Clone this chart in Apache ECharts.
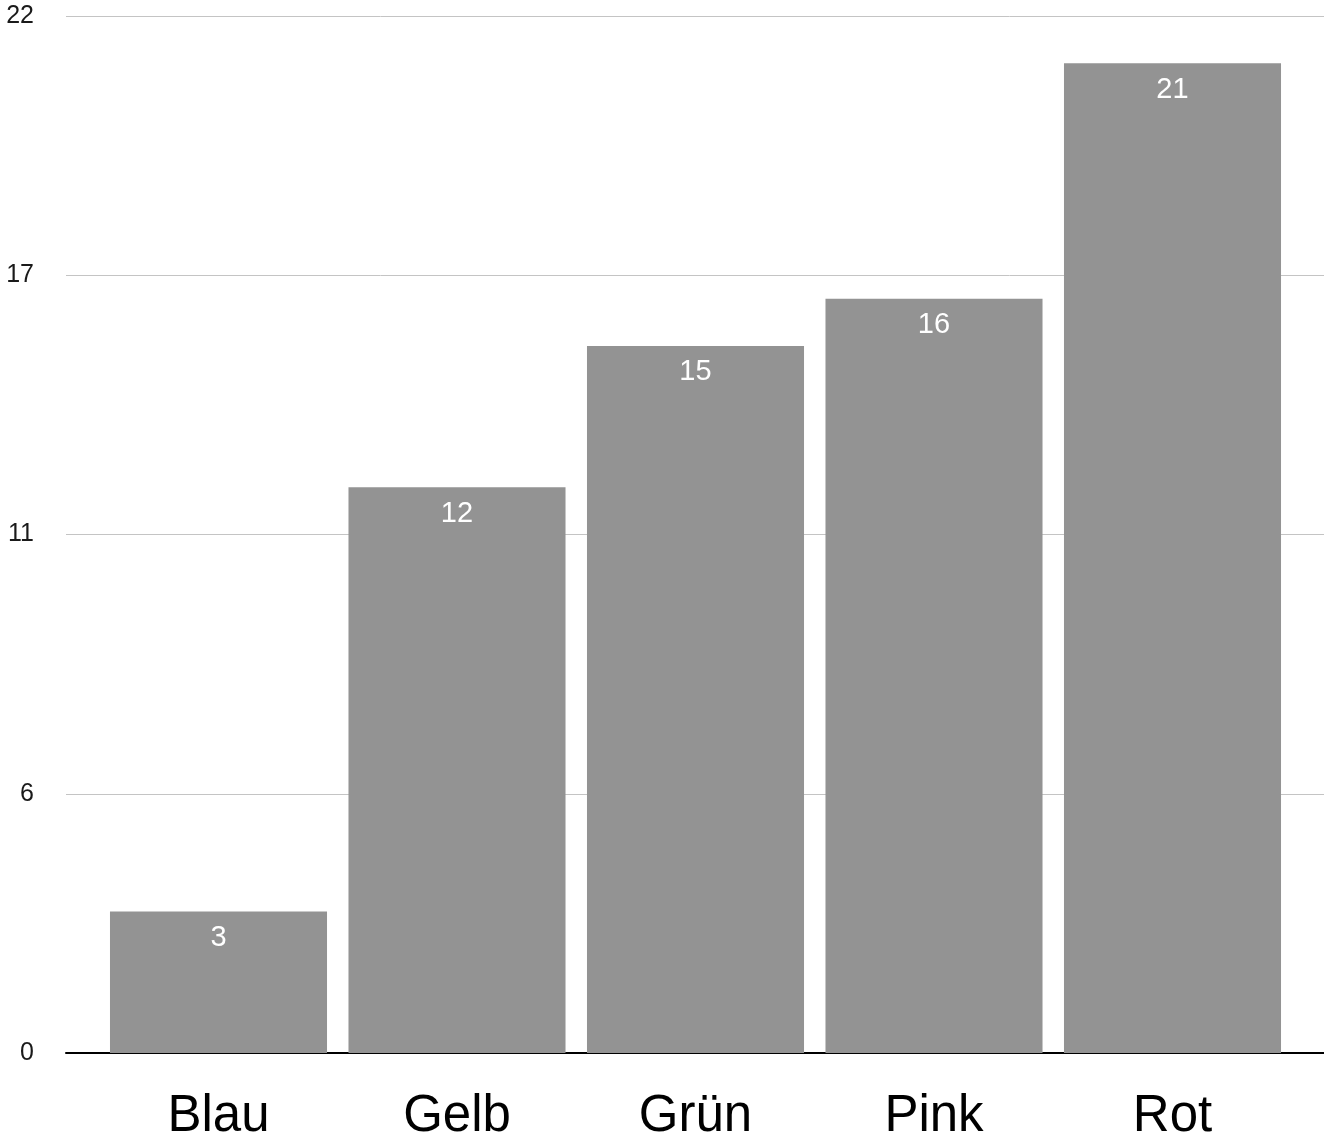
<!DOCTYPE html>
<html>
<head>
<meta charset="utf-8">
<script src="https://cdn.jsdelivr.net/npm/echarts@6/dist/echarts.min.js"></script>
<style>
  html, body { margin: 0; padding: 0; background: #fff; }
  #chart { width: 1324px; height: 1138px; }
</style>
</head>
<body>
<div id="chart"></div>
<script>
// Colour counts
const categories = ['Blau', 'Gelb', 'Grün', 'Pink', 'Rot'];
const values = [3, 12, 15, 16, 21];

// Value axis: 0..22 split into four equal steps, labels rounded
const yMin = 0;
const yMax = 22;
const yInterval = 5.5;

const FONT = '"Liberation Sans", Arial, Helvetica, sans-serif';
const PLOT_TOP = 16;
const PLOT_BOTTOM = 85;

const chart = echarts.init(document.getElementById('chart'), null, { renderer: 'canvas' });

chart.setOption({
  animation: false,
  backgroundColor: '#ffffff',
  grid: [
    // frame grid: gridlines, y labels and baseline span the full width
    { left: 66, right: 0, top: PLOT_TOP, bottom: PLOT_BOTTOM, containLabel: false, outerBoundsMode: 'none' },
    // bar grid: category bands sit inside the frame
    { left: 99.25, right: 32.25, top: PLOT_TOP, bottom: PLOT_BOTTOM, containLabel: false, outerBoundsMode: 'none' }
  ],
  xAxis: [
    {
      gridIndex: 0,
      type: 'value',
      min: 0,
      max: 1,
      axisLine: { show: true, onZero: false, lineStyle: { color: '#000000', width: 2 } },
      axisTick: { show: false },
      axisLabel: { show: false },
      splitLine: { show: false }
    },
    {
      gridIndex: 1,
      type: 'category',
      data: categories,
      axisLine: { show: false },
      axisTick: { show: false },
      splitLine: { show: false },
      axisLabel: {
        color: '#000000',
        fontSize: 51,
        fontFamily: FONT,
        margin: 38
      }
    }
  ],
  yAxis: [
    {
      gridIndex: 0,
      type: 'value',
      min: yMin,
      max: yMax,
      interval: yInterval,
      axisLine: { show: false },
      axisTick: { show: false },
      splitLine: { show: true, lineStyle: { color: '#c4c4c4', width: 1 } },
      axisLabel: {
        color: '#1a1a1a',
        fontSize: 25,
        fontFamily: FONT,
        margin: 32,
        formatter: v => String(Math.round(v))
      }
    },
    {
      gridIndex: 1,
      type: 'value',
      min: yMin,
      max: yMax,
      interval: yInterval,
      axisLine: { show: false },
      axisTick: { show: false },
      splitLine: { show: false },
      axisLabel: { show: false }
    }
  ],
  series: [
    {
      type: 'bar',
      xAxisIndex: 1,
      yAxisIndex: 1,
      data: values,
      barCategoryGap: '9%',
      itemStyle: { color: '#939393' },
      z: 1,
      label: {
        show: true,
        position: 'insideTop',
        distance: 12,
        color: '#ffffff',
        fontSize: 29,
        fontFamily: FONT
      }
    }
  ]
});
</script>
</body>
</html>
